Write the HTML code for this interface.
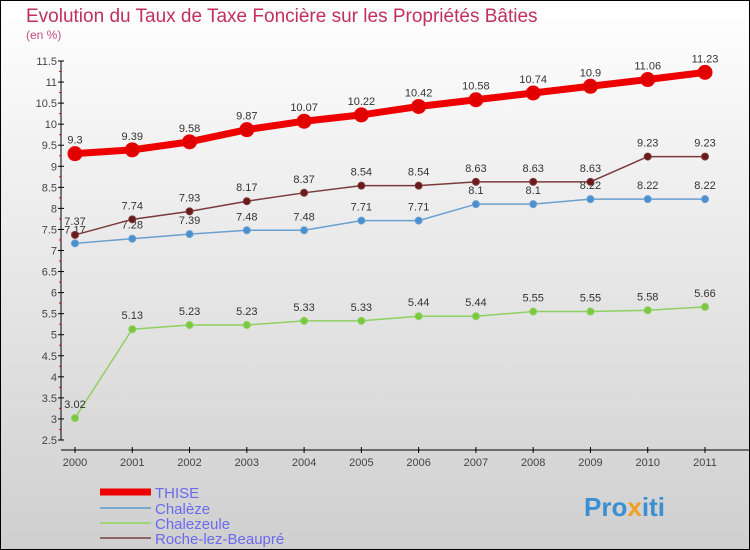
<!DOCTYPE html>
<html><head><meta charset="utf-8"><style>
body{margin:0}
svg{display:block;font-family:"Liberation Sans",sans-serif}
</style></head><body>
<svg width="750" height="550" viewBox="0 0 750 550">
<defs><linearGradient id="bg" x1="0" y1="0" x2="0" y2="1"><stop offset="0" stop-color="#ffffff"/><stop offset="1" stop-color="#cfcfcf"/></linearGradient></defs>
<rect x="0.5" y="0.5" width="749" height="549" fill="url(#bg)" stroke="#000"/>
<text x="26" y="22" font-size="19" fill="#c0305a">Evolution du Taux de Taxe Foncière sur les Propriétés Bâties</text>
<text x="26" y="39" font-size="12" fill="#c0507a">(en %)</text>
<g id="axes"></g>
<g id="series"></g>
<g>
<line x1="100" y1="492" x2="151" y2="492" stroke="#ee0000" stroke-width="7"/>
<text x="155" y="498" font-size="15" fill="#6a6aee">THISE</text>
<line x1="100" y1="508" x2="151" y2="508" stroke="#7aa8cc" stroke-width="2"/>
<text x="155" y="514" font-size="15" fill="#6a6aee">Chalèze</text>
<line x1="100" y1="523" x2="151" y2="523" stroke="#9fd47a" stroke-width="2"/>
<text x="155" y="529" font-size="15" fill="#6a6aee">Chalezeule</text>
<line x1="100" y1="538" x2="151" y2="538" stroke="#8c6666" stroke-width="2"/>
<text x="155" y="544" font-size="15" fill="#6a6aee">Roche-lez-Beaupré</text>
</g>
<text x="584" y="516" font-size="26" font-weight="bold" fill="#3a8fd0">Pro<tspan fill="#f0a020">x</tspan>iti</text>
</svg>
<script>
const years=["2000","2001","2002","2003","2004","2005","2006","2007","2008","2009","2010","2011"];
const thise=[9.3,9.39,9.58,9.87,10.07,10.22,10.42,10.58,10.74,10.9,11.06,11.23];
const chaleze=[7.17,7.28,7.39,7.48,7.48,7.71,7.71,8.1,8.1,8.22,8.22,8.22];
const chalezeule=[3.02,5.13,5.23,5.23,5.33,5.33,5.44,5.44,5.55,5.55,5.58,5.66];
const roche=[7.37,7.74,7.93,8.17,8.37,8.54,8.54,8.63,8.63,8.63,9.23,9.23];
const yTicks=[2.5,3,3.5,4,4.5,5,5.5,6,6.5,7,7.5,8,8.5,9,9.5,10,10.5,11,11.5];
const NS="http://www.w3.org/2000/svg";
const x=i=>75+i*(705-75)/(years.length-1);
const y=v=>440-(v-2.5)*(440-61)/9;
function mk(t,a,p){const e=document.createElementNS(NS,t);for(const k in a)e.setAttribute(k,a[k]);p.appendChild(e);return e;}
const ax=document.getElementById('axes');
const ya=mk('line',{x1:61,y1:61,x2:61,y2:440,stroke:'#000'},ax);


yTicks.forEach((v,i)=>{
 mk('line',{x1:58,y1:y(v),x2:64,y2:y(v),stroke:'#000'},ax);
 if(i<yTicks.length-1){mk('line',{x1:59,y1:y(v+0.25),x2:61,y2:y(v+0.25),stroke:'#e00'},ax);}
 const t=mk('text',{x:57,y:y(v)+4,'font-size':11,'text-anchor':'end',fill:'#444'},ax);
 t.textContent=String(v);
 
 
});
const xa=mk('line',{x1:61,y1:450,x2:749,y2:450,stroke:'#000'},ax);


years.forEach((yr,i)=>{
 mk('line',{x1:x(i),y1:447,x2:x(i),y2:453,stroke:'#000'},ax);
 const t=mk('text',{x:x(i),y:466,'font-size':11,'text-anchor':'middle',fill:'#444'},ax);
 t.textContent=yr;
 
 
});
const sg=document.getElementById('series');
function draw(name,vals,color,dot,w,r){
 const g=mk('g',{},sg);
 
 
 const pl=mk('polyline',{points:vals.map((v,i)=>x(i)+','+y(v)).join(' '),fill:'none',stroke:color,'stroke-width':w,'stroke-linejoin':'round'},g);
 
 
 vals.forEach((v,i)=>{
  const c=mk('circle',{cx:x(i),cy:y(v),r:r,fill:dot,stroke:color,'stroke-width':1},g);
  
  
  const t=mk('text',{x:x(i),y:y(v)-10,'font-size':11,'text-anchor':'middle',fill:'#333'},g);
  t.textContent=String(v);
  
  
 });
}
draw('chalezeule',chalezeule,'#8fd060','#7ac840',1.5,3.5);
draw('chaleze',chaleze,'#6aa0d0','#4a90d0',1.5,3.5);
draw('roche',roche,'#7a3a3a','#6a1a1a',1.5,3.5);
draw('thise',thise,'#ee0000','#e00000',7,7);
</script>
</body></html>
